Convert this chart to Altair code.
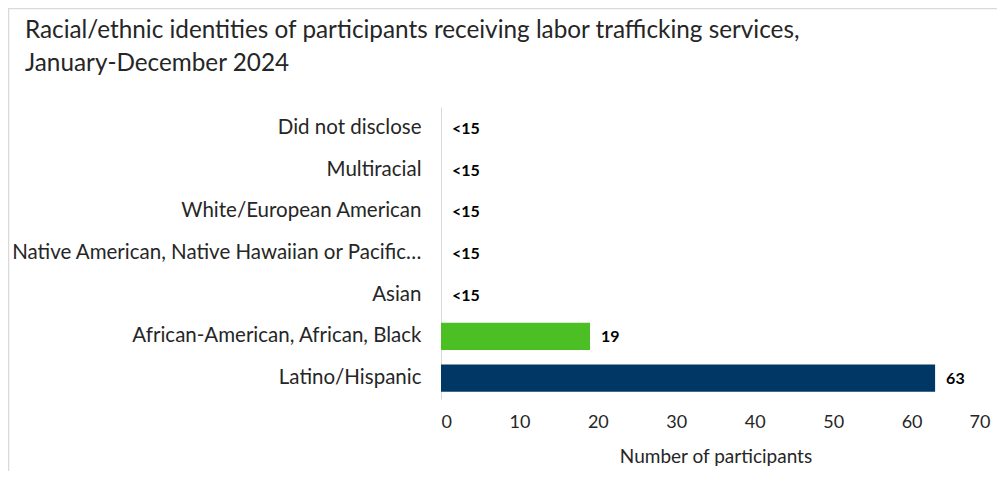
import altair as alt
import pandas as pd

categories = [
    "Did not disclose",
    "Multiracial",
    "White/European American",
    "Native American, Native Hawaiian or Pacific Islander",
    "Asian",
    "African-American, African, Black",
    "Latino/Hispanic",
]
counts = [0, 0, 0, 0, 0, 19, 63]
value_labels = ["<15", "<15", "<15", "<15", "<15", "19", "63"]
bar_colors = ["#4bbf24", "#4bbf24", "#4bbf24", "#4bbf24", "#4bbf24", "#4bbf24", "#003764"]
x_ticks = [0, 10, 20, 30, 40, 50, 60, 70]

title_lines = [
    "Racial/ethnic identities of participants receiving labor trafficking services,",
    "January-December 2024",
]

FONT = "Lato"

df = pd.DataFrame({
    "category": categories,
    "count": counts,
    "label": value_labels,
    "color": bar_colors,
})

y_enc = alt.Y(
    "category:N",
    sort=categories,
    scale=alt.Scale(paddingInner=0.35, paddingOuter=0.175),
    axis=alt.Axis(
        title=None,
        labelFont=FONT,
        labelFontSize=20.5,
        labelColor="#262626",
        labelPadding=20,
        labelLimit=411,
        ticks=False,
        domainColor="#d9d9d9",
        domainWidth=1,
    ),
)

x_enc = alt.X(
    "count:Q",
    scale=alt.Scale(domain=[0, 70], nice=False),
    axis=alt.Axis(
        values=x_ticks,
        title="Number of participants",
        titleFont=FONT,
        titleFontSize=19,
        titleFontWeight="normal",
        titleColor="#262626",
        titlePadding=16,
        labelFont=FONT,
        labelFontSize=18,
        labelColor="#262626",
        labelPadding=14,
        ticks=False,
        domain=False,
        grid=False,
    ),
)

bars = alt.Chart(df).mark_bar().encode(
    x=x_enc,
    y=y_enc,
    color=alt.Color("color:N", scale=None),
)

texts = alt.Chart(df).mark_text(
    align="left", baseline="middle", dx=11, dy=1,
    font=FONT, fontSize=16, fontWeight="bold", color="#000000",
).encode(
    x=alt.X("count:Q"),
    y=alt.Y("category:N", sort=categories),
    text="label:N",
)

border_df = pd.DataFrame({"k": [0]})
border_v = alt.Chart(border_df).mark_rule(color="#d9d9d9", strokeWidth=1.5).encode(
    x=alt.value(-432.5), y=alt.value(-99), y2=alt.value(372)
)
border_h = alt.Chart(border_df).mark_rule(color="#d9d9d9", strokeWidth=1.5).encode(
    x=alt.value(-433), x2=alt.value(560), y=alt.value(-98.5)
)

chart = alt.layer(border_v, border_h, bars, texts).properties(
    width=549,
    height=292,
    background="white",
    autosize=alt.AutoSizeParams(type="none"),
    padding={"left": 433, "top": 99, "right": 7, "bottom": 72},
    title=alt.TitleParams(
        text=title_lines,
        anchor="start",
        frame="group",
        dx=-416,
        dy=101,
        offset=32,
        font=FONT,
        fontSize=24.3,
        fontWeight="normal",
        color="#262626",
        lineHeight=33,
    ),
).configure_view(strokeWidth=0, stroke=None)

chart.save("out.html", embed_options={"renderer": "svg", "actions": False})
